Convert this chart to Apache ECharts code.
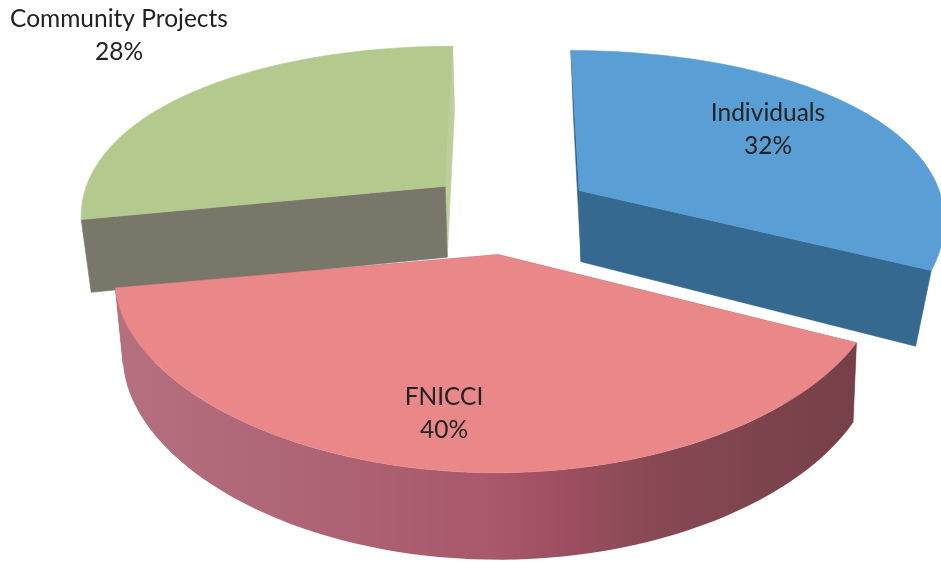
<!DOCTYPE html>
<html>
<head>
<meta charset="utf-8">
<style>html,body{margin:0;padding:0;background:#fff}#c{width:941px;height:564px}</style>
<script src="https://cdn.jsdelivr.net/npm/echarts@6/dist/echarts.min.js"></script>
</head>
<body>
<div id="c"></div>
<script>
const categories = ['Individuals', 'FNICCI', 'Community Projects'];
const shares = [32, 40, 28];

// Projection of the tilted, exploded disk onto the page
const view = {
  cx: 509, cy: 213,           // disk centre before explosion
  explodeX: 83, explodeY: 42,
  a: 360, b: 170.5, k: 0.218, // radius and perspective on the disk plane
  lean: 0.00083, leanY: 190,  // horizontal convergence towards the top
  depthBase: 71, depthRate: 0.056, depthRef: 187,
  bottomShift: 2
};
const bottomScale = [0.95, 0.985, 0.978];
const startNudge = [0, 2.5, 0];  // perspective skew of the source at a slice's first edge
const palette = [
  { top: '#5a9ed6', cutStart: '#2f5f86', cutEnd: '#35698f', wall: '#35698f' },
  { top: '#ea8889', cutStart: '#a85a68', cutEnd: '#a85a68',
    wall: { type: 'linear', x: 0, y: 0, x2: 1, y2: 0, colorStops: [
      { offset: 0, color: '#b5707f' }, { offset: 0.5, color: '#a8596c' },
      { offset: 0.6, color: '#9e4f61' }, { offset: 0.74, color: '#864852' },
      { offset: 1, color: '#764048' } ] } },
  { top: '#b4c98e', cutStart: '#787769', cutEnd: '#bccf98', wall: '#787769' }
];
const labelAt = [[768, 130], [444, 414], [119, 36]];
const sliceZ = [1, 3, 2];

const rad = d => d * Math.PI / 180;
function apexOf(mid) {
  return [view.cx + view.explodeX * Math.sin(rad(mid)),
          view.cy - view.explodeY * Math.cos(rad(mid))];
}
function rimPoint(apex, deg) {
  const u = Math.sin(rad(deg)), v = Math.cos(rad(deg));
  const y = apex[1] - view.b * v / (1 + view.k * v);
  const x0 = apex[0] + view.a * u;
  const x = view.cx + (x0 - view.cx) * (1 + view.lean * (y - view.leanY));
  return [x, y];
}
function topApex(apex) {
  const x = view.cx + (apex[0] - view.cx) * (1 + view.lean * (apex[1] - view.leanY));
  return [x, apex[1]];
}
function depthAt(y) { return view.depthBase + (y - view.depthRef) * view.depthRate; }
function drop(p, ap, scale) {
  return [ap[0] + view.bottomShift + (p[0] - ap[0]) * scale, p[1] + depthAt(p[1])];
}
function arc(apex, from, to) {
  const pts = [], n = Math.ceil((to - from) / 2);
  for (let i = 0; i <= n; i++) pts.push(rimPoint(apex, from + (to - from) * i / n));
  return pts;
}
function poly(points, fill, z2) {
  return { type: 'polygon', z2, shape: { points },
    style: { fill, stroke: typeof fill === 'string' ? fill : 'none', lineWidth: 0.6 } };
}

const total = shares.reduce((s, v) => s + v, 0);

function renderSlice(params, api) {
  const i = params.dataIndex, value = api.value(0);
  let before = 0;
  for (let j = 0; j < i; j++) before += shares[j];
  const from = before / total * 360, to = (before + value) / total * 360;
  const apex0 = apexOf((from + to) / 2);
  const ap = topApex(apex0);
  const drawFrom = from + startNudge[i];
  const rim = arc(apex0, drawFrom, to);
  const rimLow = rim.map(p => drop(p, ap, bottomScale[i]));
  const apLow = drop(ap, ap, bottomScale[i]);
  const c = palette[i], base = sliceZ[i] * 10;
  const last = rim.length - 1;
  const startFace = poly([rim[0], ap, apLow, rimLow[0]], c.cutStart, 0);
  const endFace = poly([rim[last], ap, apLow, rimLow[last]], c.cutEnd, 0);
  // the face further back is painted first
  const startBehind = Math.cos(rad(drawFrom)) > Math.cos(rad(to));
  startFace.z2 = base + (startBehind ? 0 : 1);
  endFace.z2 = base + (startBehind ? 1 : 0);
  const children = [startFace, endFace];
  // only the part of the outer wall facing the viewer
  const front = [], frontLow = [];
  rim.forEach((p, k) => {
    const deg = drawFrom + (to - drawFrom) * k / last;
    if (Math.cos(rad(deg)) < 0) { front.push(p); frontLow.push(rimLow[k]); }
  });
  if (front.length > 1 && i === 1) children.push(poly(front.concat(frontLow.slice().reverse()), c.wall, base + 2));
  children.push(poly([ap].concat(rim), c.top, base + 3));
  children.push({ type: 'text', z2: 100,
    style: { x: labelAt[i][0], y: labelAt[i][1],
      text: categories[i] + '\n' + value + '%',
      fill: '#222', font: '24.5px Lato', lineHeight: 33,
      align: 'center', verticalAlign: 'middle' } });
  return { type: 'group', children };
}

const chart = echarts.init(document.getElementById('c'), null, { renderer: 'canvas' });
chart.setOption({
  animation: false,
  backgroundColor: '#ffffff',
  series: [{
    type: 'custom',
    coordinateSystem: 'none',
    renderItem: renderSlice,
    data: shares.map(v => [v])
  }]
});
</script>
</body>
</html>
